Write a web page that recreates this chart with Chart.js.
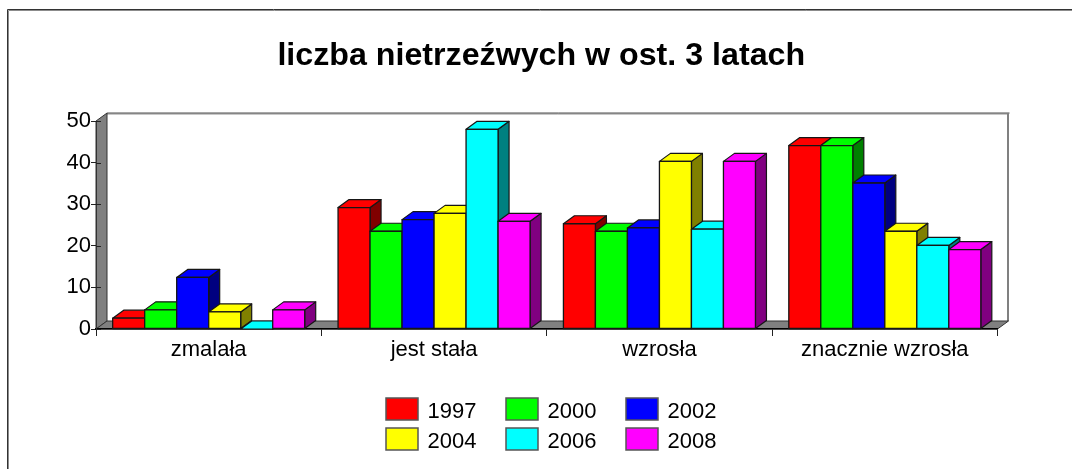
<!DOCTYPE html>
<html lang="pl">
<head>
<meta charset="utf-8">
<title>liczba nietrzeźwych w ost. 3 latach</title>
<style>
html,body{margin:0;padding:0;background:#fff;overflow:hidden}
canvas{display:block}
</style>
<script src="https://cdn.jsdelivr.net/npm/chart.js@4/dist/chart.umd.js"></script>
</head>
<body>
<canvas id="c" width="1072" height="469"></canvas>
<script>
const titleText = 'liczba nietrzeźwych w ost. 3 latach';
const categories = ['zmalała', 'jest stała', 'wzrosła', 'znacznie wzrosła'];
const years = ['1997', '2000', '2002', '2004', '2006', '2008'];
const v1997 = [2.6, 29.2, 25.3, 44.1];
const v2000 = [4.6, 23.5, 23.5, 44.1];
const v2002 = [12.4, 26.3, 24.3, 35.1];
const v2004 = [4.1, 27.8, 40.3, 23.5];
const v2006 = [0, 48.0, 24.0, 20.1];
const v2008 = [4.6, 25.9, 40.3, 19.1];
const seriesValues = [v1997, v2000, v2002, v2004, v2006, v2008];
const frontColors = ['#ff0000', '#00ff00', '#0000ff', '#ffff00', '#00ffff', '#ff00ff'];
const sideColors = ['#800000', '#008000', '#000080', '#808000', '#008080', '#800080'];
const yTicks = [0, 10, 20, 30, 40, 50];

const DX = 11, DY = 8;
const EDGE = '#161616';

function poly(ctx, pts, fill, stroke, lw) {
  ctx.beginPath();
  pts.forEach((p, i) => i ? ctx.lineTo(p[0], p[1]) : ctx.moveTo(p[0], p[1]));
  ctx.closePath();
  if (fill) { ctx.fillStyle = fill; ctx.fill(); }
  if (stroke) { ctx.strokeStyle = stroke; ctx.lineWidth = lw || 1; ctx.stroke(); }
}

const titleShift = {
  id: 'titleShift',
  afterLayout(chart) {
    chart.titleBlock.left += 13.5;
    chart.titleBlock.right += 13.5;
  }
};

const walls = {
  id: 'walls',
  beforeDraw(chart) {
    const ctx = chart.ctx, a = chart.chartArea;
    ctx.save();
    ctx.strokeStyle = '#8c8c8c'; ctx.lineWidth = 1;
    ctx.beginPath(); ctx.moveTo(8.5, 469); ctx.lineTo(8.5, 10.5); ctx.lineTo(1072, 10.5); ctx.stroke();
    ctx.strokeStyle = '#333';
    ctx.beginPath(); ctx.moveTo(7.5, 469); ctx.lineTo(7.5, 9.5); ctx.lineTo(1072, 9.5); ctx.stroke();
    ctx.strokeStyle = '#999'; ctx.lineWidth = 1;
    ctx.beginPath(); ctx.moveTo(a.left + DX, a.top - DY + 1); ctx.lineTo(a.right + DX, a.top - DY + 1); ctx.stroke();
    ctx.strokeStyle = '#444';
    ctx.beginPath(); ctx.moveTo(a.left + DX, a.top - DY); ctx.lineTo(a.right + DX + 1, a.top - DY); ctx.stroke();
    ctx.strokeStyle = '#808080'; ctx.lineWidth = 2;
    ctx.beginPath(); ctx.moveTo(a.right + DX - 0.5, a.top - DY); ctx.lineTo(a.right + DX - 0.5, a.bottom - DY); ctx.stroke();
    poly(ctx, [[a.left, a.top], [a.left + DX, a.top - DY], [a.left + DX, a.bottom - DY], [a.left, a.bottom]], '#808080', '#333', 1);
    poly(ctx, [[a.left, a.bottom], [a.left + DX, a.bottom - DY], [a.right + DX, a.bottom - DY], [a.right, a.bottom]], '#808080', '#333', 1);
    ctx.restore();
  }
};

const bars3d = {
  id: 'bars3d',
  beforeDatasetsDraw(chart) {
    const ctx = chart.ctx;
    const ys = chart.scales.y, a = chart.chartArea;
    ctx.save();
    ctx.strokeStyle = '#222'; ctx.lineWidth = 1;
    ys.ticks.forEach((t, i) => {
      const y = Math.round(ys.getPixelForTick(i)) + 0.5;
      ctx.beginPath(); ctx.moveTo(a.left, y); ctx.lineTo(a.left + 5, y); ctx.stroke();
    });
    ctx.restore();
    chart.data.datasets.forEach((ds, di) => {
      const meta = chart.getDatasetMeta(di);
      meta.data.forEach(el => {
        const p = el.getProps(['x', 'y', 'base', 'width']);
        const l = p.x - p.width / 2, r = p.x + p.width / 2, t = p.y, b = p.base;
        ctx.save();
        ctx.lineJoin = 'round';
        poly(ctx, [[r, b], [r + DX, b - DY], [r + DX, t - DY], [r, t]], sideColors[di], EDGE, 1.2);
        poly(ctx, [[l, t], [l + DX, t - DY], [r + DX, t - DY], [r, t]], frontColors[di], EDGE, 1.2);
        if (b - t > 0.5) poly(ctx, [[l, t], [r, t], [r, b], [l, b]], frontColors[di], EDGE, 1.3);
        ctx.restore();
      });
    });
    return false;
  }
};

const legend3 = {
  id: 'legend3',
  afterDraw(chart) {
    const ctx = chart.ctx;
    const colX = [386, 506, 626], rowY = [398, 428];
    ctx.save();
    ctx.font = '22px "Liberation Sans", Arial, sans-serif';
    ctx.textAlign = 'left'; ctx.textBaseline = 'alphabetic';
    chart.data.datasets.forEach((ds, i) => {
      const x = colX[i % 3], y = rowY[Math.floor(i / 3)];
      ctx.fillStyle = ds.backgroundColor;
      ctx.fillRect(x, y, 32, 22);
      ctx.strokeStyle = '#555'; ctx.lineWidth = 1.5;
      ctx.strokeRect(x, y, 32, 22);
      ctx.fillStyle = '#000';
      ctx.fillText(ds.label, x + 41.5, y + 19.5);
    });
    ctx.restore();
  }
};

new Chart(document.getElementById('c'), {
  type: 'bar',
  plugins: [titleShift, walls, bars3d, legend3],
  data: {
    labels: categories,
    datasets: years.map((y, i) => ({
      label: y,
      data: seriesValues[i],
      backgroundColor: frontColors[i],
      borderWidth: 0,
      barPercentage: 1,
      categoryPercentage: 0.852
    }))
  },
  options: {
    responsive: false,
    animation: false,
    devicePixelRatio: 1,
    layout: { padding: { left: 58, right: 74.5, top: 0, bottom: 100 } },
    plugins: {
      legend: { display: false },
      tooltip: { enabled: false },
      title: {
        display: true,
        text: titleText,
        color: '#000',
        font: { family: '"Liberation Sans", Arial, sans-serif', size: 32.2, weight: 'bold', lineHeight: 1.2 },
        padding: { top: 37, bottom: 45.4 }
      }
    },
    scales: {
      x: {
        afterFit(s) { s.height = 40; },
        grid: { drawOnChartArea: false, drawTicks: true, tickLength: 7, color: '#222', lineWidth: 1 },
        border: { color: '#000', width: 1.5 },
        ticks: { color: '#000', padding: 1, maxRotation: 0, font: { family: '"Liberation Sans", Arial, sans-serif', size: 22 } }
      },
      y: {
        min: 0, max: 50,
        afterFit(s) { s.width = 38; },
        afterBuildTicks(s) { s.ticks = yTicks.map(v => ({ value: v })); },
        grid: { drawOnChartArea: false, drawTicks: true, tickLength: 5, color: '#222', lineWidth: 1 },
        border: { color: '#333', width: 1 },
        ticks: { color: '#000', padding: 0, font: { family: '"Liberation Sans", Arial, sans-serif', size: 22 } }
      }
    }
  }
});
</script>
</body>
</html>
